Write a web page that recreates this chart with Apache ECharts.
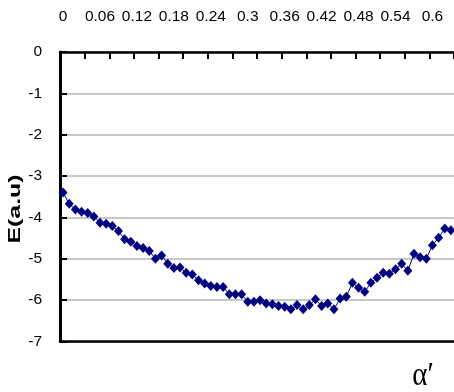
<!DOCTYPE html>
<html>
<head>
<meta charset="utf-8">
<style>
  html, body { margin: 0; padding: 0; background: #ffffff; }
  #chart { width: 454px; height: 392px; }
</style>
<script src="https://cdn.jsdelivr.net/npm/echarts@6/dist/echarts.min.js"></script>
</head>
<body>
<div id="chart"></div>
<script>
// alpha' values (category axis, step 0.01)
const alphaValues = [
  '0', '0.01', '0.02', '0.03', '0.04', '0.05', '0.06', '0.07', '0.08', '0.09',
  '0.1', '0.11', '0.12', '0.13', '0.14', '0.15', '0.16', '0.17', '0.18', '0.19',
  '0.2', '0.21', '0.22', '0.23', '0.24', '0.25', '0.26', '0.27', '0.28', '0.29',
  '0.3', '0.31', '0.32', '0.33', '0.34', '0.35', '0.36', '0.37', '0.38', '0.39',
  '0.4', '0.41', '0.42', '0.43', '0.44', '0.45', '0.46', '0.47', '0.48', '0.49',
  '0.5', '0.51', '0.52', '0.53', '0.54', '0.55', '0.56', '0.57', '0.58', '0.59',
  '0.6', '0.61', '0.62', '0.63'
];

// energy E (a.u.) for each alpha'
const energy = [
  -3.40, -3.67, -3.81, -3.86, -3.89, -3.98, -4.13, -4.15, -4.21, -4.33,
  -4.53, -4.59, -4.69, -4.74, -4.81, -5.00, -4.92, -5.12, -5.22, -5.21,
  -5.34, -5.38, -5.52, -5.60, -5.66, -5.68, -5.68, -5.86, -5.86, -5.86,
  -6.04, -6.04, -6.00, -6.08, -6.10, -6.14, -6.16, -6.22, -6.12, -6.22,
  -6.12, -5.98, -6.14, -6.08, -6.22, -5.96, -5.92, -5.58, -5.70, -5.80,
  -5.58, -5.46, -5.34, -5.36, -5.25, -5.12, -5.29, -4.88, -4.96, -5.00,
  -4.67, -4.49, -4.27, -4.31
];

// y-axis range
const yMin = -7;
const yMax = 0;
const yStep = 1;

const labelFont = "'Liberation Sans Narrow', 'Arial Narrow', 'Liberation Sans', Arial, sans-serif";

const chart = echarts.init(document.getElementById('chart'), null, { renderer: 'canvas' });

chart.setOption({
  backgroundColor: '#ffffff',
  animation: false,
  grid: { left: 60, top: 52, right: -3, bottom: 50.5, containLabel: false },
  xAxis: [
    {
      type: 'category',
      position: 'top',
      data: alphaValues,
      boundaryGap: true,
      axisLine: { show: true, lineStyle: { color: '#000000', width: 2.5 } },
      axisTick: { show: true, inside: true, length: 7, interval: 3, lineStyle: { color: '#000000', width: 2 } },
      axisLabel: { show: true, interval: 5, margin: 27, color: '#000000', fontSize: 15.5, fontFamily: labelFont },
      splitLine: { show: false }
    },
    {
      type: 'category',
      position: 'bottom',
      data: alphaValues,
      boundaryGap: true,
      axisLine: { show: true, lineStyle: { color: '#000000', width: 2.5 } },
      axisTick: { show: false },
      axisLabel: { show: false },
      splitLine: { show: false }
    }
  ],
  yAxis: {
    type: 'value',
    min: yMin,
    max: yMax,
    interval: yStep,
    axisLine: { show: true, onZero: false, lineStyle: { color: '#000000', width: 3 } },
    axisTick: { show: true, inside: true, length: 7, lineStyle: { color: '#000000', width: 2 } },
    axisLabel: { margin: 18, color: '#000000', fontSize: 15.5, fontFamily: labelFont },
    splitLine: { show: true, lineStyle: { color: '#b4b4b4', width: 1.5 } }
  },
  series: [
    {
      type: 'line',
      xAxisIndex: 0,
      data: energy,
      symbol: 'diamond',
      symbolSize: [9, 10],
      showAllSymbol: true,
      itemStyle: { color: '#000080' },
      lineStyle: { color: '#000080', width: 1 },
      z: 5
    }
  ],
  graphic: [
    {
      type: 'text',
      x: 16,
      y: 209,
      rotation: Math.PI / 2,
      scaleX: 1.55,
      style: {
        text: 'E(a.u)',
        fontFamily: "'Liberation Sans', Arial, sans-serif",
        fontWeight: 'bold',
        fontSize: 16,
        fill: '#000000',
        textAlign: 'center',
        textVerticalAlign: 'middle'
      }
    },
    {
      type: 'text',
      x: 423,
      y: 376,
      scaleX: 0.85,
      style: {
        text: 'α′',
        fontFamily: "'Liberation Serif', 'Times New Roman', serif",
        fontSize: 34,
        fill: '#000000',
        textAlign: 'center',
        textVerticalAlign: 'middle'
      }
    }
  ]
});
</script>
</body>
</html>
